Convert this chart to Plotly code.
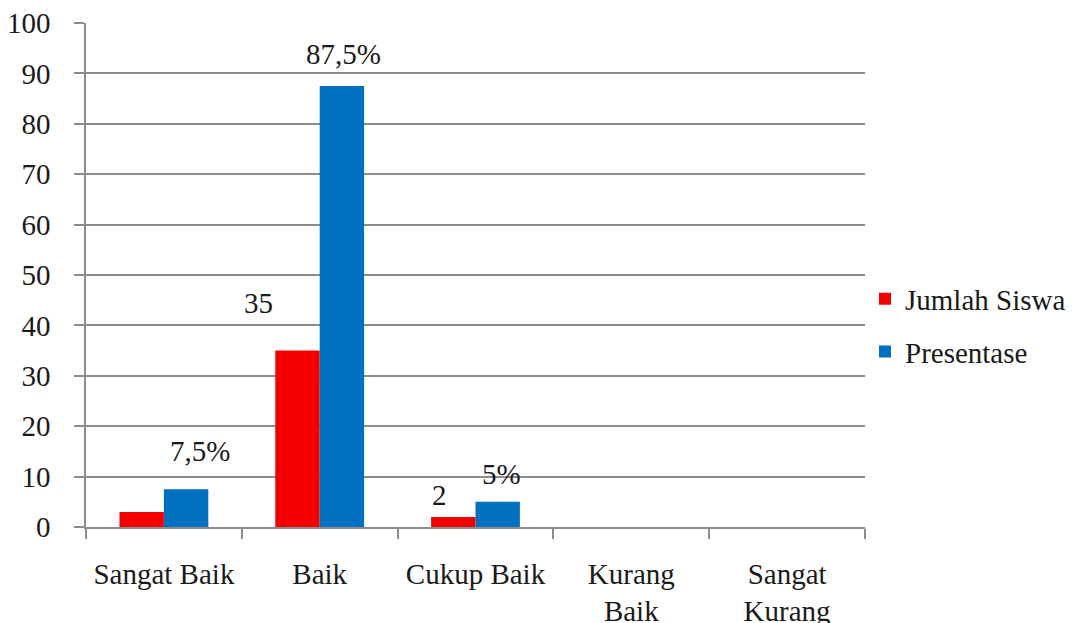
import plotly.graph_objects as go

categories = ["Sangat Baik", "Baik", "Cukup Baik", "Kurang<br>Baik", "Sangat<br>Kurang"]
jumlah_siswa = [3, 35, 2, 0, 0]
presentase = [7.5, 87.5, 5, 0, 0]

# data labels per category index
label_jumlah = {1: "35", 2: "2"}
label_presentase = {0: "7,5%", 1: "87,5%", 2: "5%"}

FONT = "Liberation Serif"
FS = 29
RED = "#F50000"
BLUE = "#0070C0"
GRID = "#8C8C8C"
TXT = "#1a1a1a"

fig = go.Figure()
fig.add_trace(go.Bar(name="Jumlah Siswa", x=categories, y=jumlah_siswa,
                     marker=dict(color=RED, line=dict(width=0)), legendgroup="a"))
fig.add_trace(go.Bar(name="Presentase", x=categories, y=presentase,
                     marker=dict(color=BLUE, line=dict(width=0)), legendgroup="b"))

# label offsets in pixels (x, y) from the top of each bar
jumlah_offsets = {1: (-39, 48), 2: (-14, 22)}
presentase_offsets = {0: (14, 38), 1: (2, 32), 2: (4, 28)}

for i, txt in label_jumlah.items():
    dx, dy = jumlah_offsets[i]
    fig.add_annotation(x=categories[i], y=jumlah_siswa[i], text=txt, showarrow=False,
                       xshift=-22 + dx, yshift=dy,
                       font=dict(family=FONT, size=FS, color=TXT))
for i, txt in label_presentase.items():
    dx, dy = presentase_offsets[i]
    fig.add_annotation(x=categories[i], y=presentase[i], text=txt, showarrow=False,
                       xshift=22 + dx, yshift=dy,
                       font=dict(family=FONT, size=FS, color=TXT))

fig.update_layout(
    width=1080, height=623,
    margin=dict(l=86, r=215, t=23, b=96, autoexpand=False),
    paper_bgcolor="white", plot_bgcolor="white",
    barmode="group", bargap=0.43, bargroupgap=0,
    font=dict(family=FONT, size=FS, color=TXT),
    showlegend=True,
    legend=dict(x=1.0, y=0.40, xanchor="left", yanchor="middle",
                font=dict(family=FONT, size=FS, color=TXT),
                tracegroupgap=12, itemwidth=30, bgcolor="rgba(0,0,0,0)"),
    xaxis=dict(showgrid=False, showline=True, linecolor=GRID, linewidth=1.5,
               ticks="outside", ticklen=10, tickcolor=GRID, tickwidth=1.5,
               tickson="boundaries", ticklabelstandoff=20, automargin=False,
               tickfont=dict(family=FONT, size=FS, color=TXT)),
    yaxis=dict(range=[0, 100], dtick=10, showgrid=True, gridcolor=GRID, gridwidth=1.5,
               showline=True, linecolor=GRID, linewidth=1.5, zeroline=False,
               ticks="outside", ticklen=10, tickcolor=GRID, tickwidth=1.5,
               ticklabelstandoff=18, automargin=False,
               tickfont=dict(family=FONT, size=FS, color=TXT)),
)

fig.write_html("out.html")
